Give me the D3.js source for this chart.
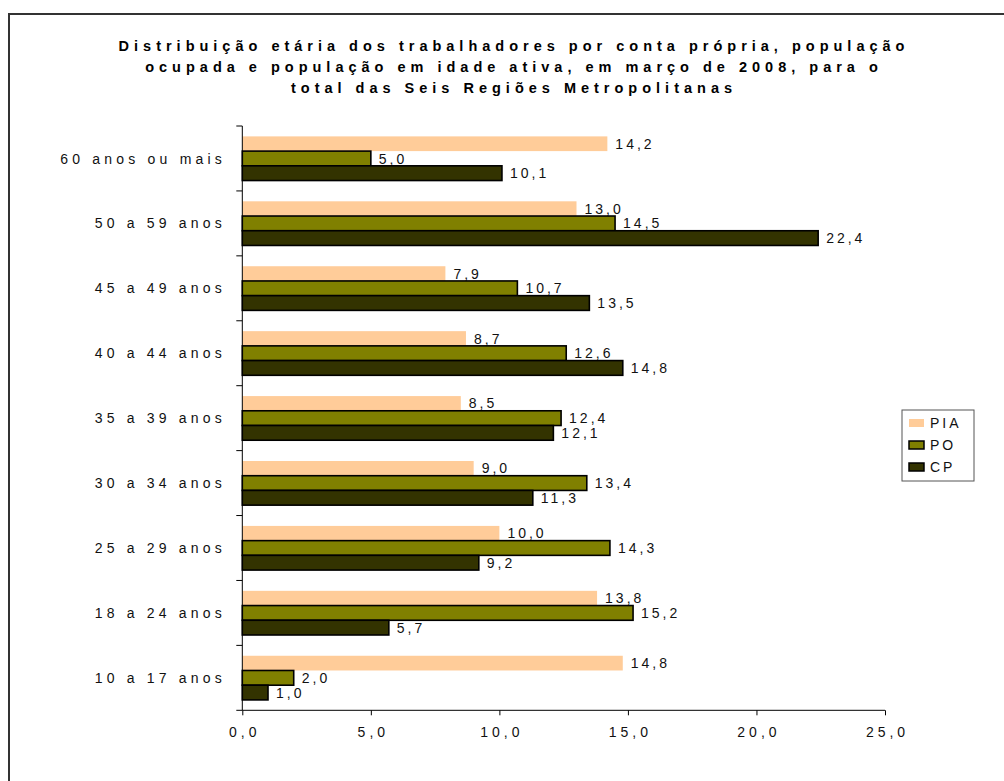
<!DOCTYPE html>
<html><head><meta charset="utf-8">
<script src="https://cdn.jsdelivr.net/npm/d3@7"></script>
<style>body{margin:0;background:#fff;} svg{display:block;font-family:"Liberation Sans",Arial,sans-serif;}</style>
</head><body>
<svg id="c" width="1004" height="781"></svg>
<script>
const categories = ["60 anos ou mais","50 a 59 anos","45 a 49 anos","40 a 44 anos","35 a 39 anos","30 a 34 anos","25 a 29 anos","18 a 24 anos","10 a 17 anos"];
const seriesNames = ["PIA","PO","CP"];
const PIA = [14.2,13.0,7.9,8.7,8.5,9.0,10.0,13.8,14.8];
const PO  = [5.0,14.5,10.7,12.6,12.4,13.4,14.3,15.2,2.0];
const CP  = [10.1,22.4,13.5,14.8,12.1,11.3,9.2,5.7,1.0];
const xTicks = [0,5,10,15,20,25];
const titleLines = ["Distribuição etária dos trabalhadores por conta própria, população","ocupada e população em idade ativa, em março de 2008, para o","total das Seis Regiões Metropolitanas"];

const colors = {PIA:"#FFCC99", PO:"#808000", CP:"#333300"};
const strokes = {PIA:"none", PO:"#000", CP:"#000"};
const values = {PIA, PO, CP};

const svg = d3.select("#c");
svg.append("rect").attr("x",9).attr("y",14).attr("width",1010).attr("height",800)
  .attr("fill","none").attr("stroke","#333").attr("stroke-width",2);

const x = d3.scaleLinear().domain([0,25]).range([242.3,885]);
const y = d3.scaleBand().domain(categories).range([126,710.3]).paddingInner(0.32).paddingOuter(0.16);
const ys = d3.scaleBand().domain(seriesNames).range([0,y.bandwidth()]);

// title
svg.append("g").selectAll("text").data(titleLines).join("text")
  .attr("x",514).attr("y",(d,i)=>51+i*21).attr("text-anchor","middle")
  .attr("font-weight","bold").attr("font-size",14.5).attr("letter-spacing",5)
  .text(d=>d);

// bars
const g = svg.append("g");
seriesNames.forEach(s=>{
  const data = categories.map((c,i)=>({c, v: values[s][i]}));
  g.append("g").selectAll("rect").data(data).join("rect")
    .attr("x",x(0)).attr("y",d=>y(d.c)+ys(s))
    .attr("width",d=>x(d.v)-x(0)).attr("height",ys.bandwidth())
    .attr("fill",colors[s]).attr("stroke",strokes[s]).attr("stroke-width",1.6);
  g.append("g").selectAll("text").data(data).join("text")
    .attr("x",d=>x(d.v)+8).attr("y",d=>y(d.c)+ys(s)+ys.bandwidth()/2)
    .attr("dy","0.36em").attr("font-size",14).attr("letter-spacing",3).attr("fill","#111")
    .text(d=>d3.format(".1f")(d.v).replace(".",","));
});

// y axis
const yAxisG = svg.append("g");
yAxisG.append("line").attr("x1",x(0)).attr("x2",x(0)).attr("y1",126).attr("y2",710.3).attr("stroke","#000");
const bounds = d3.range(categories.length+1).map(i=>126 + i*y.step());
yAxisG.selectAll("line.t").data(bounds).join("line").attr("class","t")
  .attr("x1",x(0)-6).attr("x2",x(0)).attr("y1",d=>d).attr("y2",d=>d).attr("stroke","#000");
yAxisG.selectAll("text").data(categories).join("text")
  .attr("x",226).attr("y",d=>y(d)+y.bandwidth()/2).attr("dy","0.36em")
  .attr("text-anchor","end").attr("font-size",14).attr("letter-spacing",4.2).attr("fill","#111")
  .text(d=>d);

// x axis
const xAxis = d3.axisBottom(x).tickValues(xTicks).tickSize(5).tickPadding(12)
  .tickFormat(d=>d3.format(".1f")(d).replace(".",","));
const xg = svg.append("g").attr("transform","translate(0,710.3)").call(xAxis);
xg.select(".domain").attr("stroke","#000").attr("d",`M${x(0)},0H${x(25)}`);
xg.selectAll(".tick line").attr("stroke","#000");
xg.selectAll(".tick text").attr("font-size",14).attr("letter-spacing",4).attr("fill","#111")
  .attr("dx","2").attr("font-family","Liberation Sans, Arial, sans-serif");

// legend
const lg = svg.append("g");
lg.append("rect").attr("x",902).attr("y",410).attr("width",72).attr("height",71)
  .attr("fill","#fff").attr("stroke","#555").attr("stroke-width",1);
seriesNames.forEach((s,i)=>{
  const cy = 423 + i*22;
  lg.append("rect").attr("x",909).attr("y",cy-4).attr("width",15).attr("height",8)
    .attr("fill",colors[s]).attr("stroke",strokes[s]).attr("stroke-width",1.5);
  lg.append("text").attr("x",930).attr("y",cy).attr("dy","0.36em").attr("font-size",14)
    .attr("letter-spacing",3).attr("fill","#111").text(s);
});
</script>
</body></html>
